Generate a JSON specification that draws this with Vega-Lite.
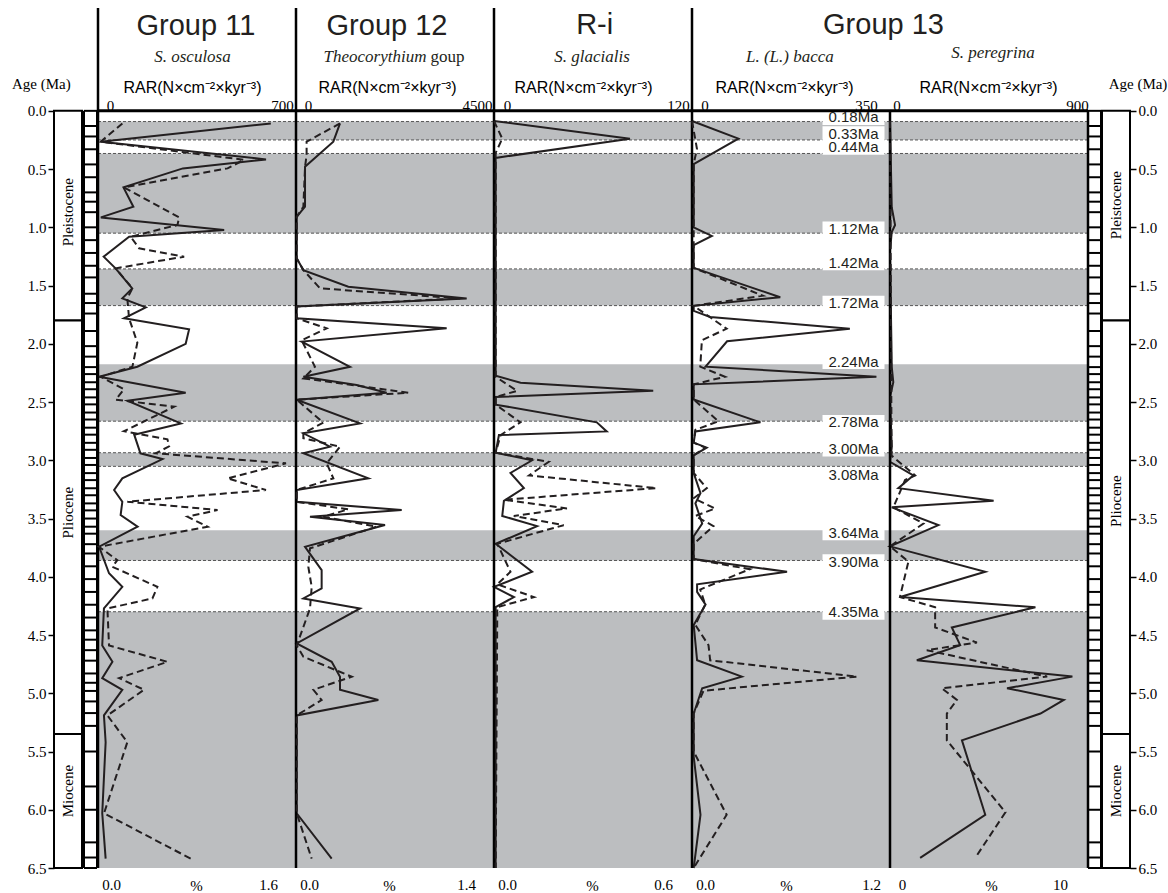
{
"$schema":"https://vega.github.io/schema/vega-lite/v6.json",
"autosize":{"type":"pad"},
"padding":{"left":12,"top":6,"right":0,"bottom":0},
"background":"white",
"spacing":0,
"bounds":"flush",
"config":{"view":{"stroke":null},"axis":{"grid":false},"concat":{"spacing":0}},
"resolve":{"scale":{"x":"independent","y":"independent"}},
"datasets":{
"bands":[{"age":0.092,"age2":0.25},{"age":0.366,"age2":1.05},{"age":1.357,"age2":1.672},{"age":2.175,"age2":2.664},{"age":2.935,"age2":3.052},{"age":3.6,"age2":3.86},{"age":4.3,"age2":6.5}],
"bounds":[{"age":0.092},{"age":0.25},{"age":0.366},{"age":1.05},{"age":1.357},{"age":1.672},{"age":2.664},{"age":2.935},{"age":3.052},{"age":3.86},{"age":4.3}],
"epochs":[{"name":"Pleistocene","age":0,"age2":1.8},{"name":"Pliocene","age":1.8,"age2":5.35},{"name":"Miocene","age":5.35,"age2":6.5}],
"epochLabelsL":[{"name":"Pleistocene","age":0.87},{"name":"Pliocene","age":3.45},{"name":"Miocene","age":5.84}],
"epochLabelsR":[{"name":"Pleistocene","age":0.81},{"name":"Pliocene","age":3.35},{"name":"Miocene","age":5.84}],
"ladder":[{"age":0},{"age":0.13},{"age":0.22},{"age":0.33},{"age":0.46},{"age":0.57},{"age":0.7},{"age":0.78},{"age":0.87},{"age":1.0},{"age":1.11},{"age":1.22},{"age":1.33},{"age":1.43},{"age":1.57},{"age":1.65},{"age":1.74},{"age":1.89},{"age":2.02},{"age":2.11},{"age":2.2},{"age":2.26},{"age":2.33},{"age":2.39},{"age":2.46},{"age":2.52},{"age":2.59},{"age":2.65},{"age":2.72},{"age":2.78},{"age":2.85},{"age":2.91},{"age":2.98},{"age":3.04},{"age":3.11},{"age":3.17},{"age":3.24},{"age":3.3},{"age":3.37},{"age":3.43},{"age":3.5},{"age":3.57},{"age":3.63},{"age":3.72},{"age":3.8},{"age":3.91},{"age":4.02},{"age":4.13},{"age":4.24},{"age":4.35},{"age":4.46},{"age":4.54},{"age":4.63},{"age":4.72},{"age":4.83},{"age":4.91},{"age":4.98},{"age":5.07},{"age":5.17},{"age":5.28},{"age":5.5},{"age":5.8},{"age":6.0},{"age":6.28},{"age":6.41},{"age":6.5}],
"agelabels":[{"label":"0.18Ma","age":0.057},{"label":"0.33Ma","age":0.196},{"label":"0.44Ma","age":0.313},{"label":"1.12Ma","age":1.013},{"label":"1.42Ma","age":1.304},{"label":"1.72Ma","age":1.652},{"label":"2.24Ma","age":2.152},{"label":"2.78Ma","age":2.674},{"label":"3.00Ma","age":2.904},{"label":"3.08Ma","age":3.122},{"label":"3.64Ma","age":3.622},{"label":"3.90Ma","age":3.87},{"label":"4.35Ma","age":4.304}],
"osc_r":[{"age":0.108,"v":611},{"age":0.265,"v":10},{"age":0.417,"v":594},{"age":0.494,"v":300},{"age":0.657,"v":90},{"age":0.823,"v":125},{"age":0.915,"v":10},{"age":1.023,"v":446},{"age":1.081,"v":110},{"age":1.252,"v":20},{"age":1.352,"v":62},{"age":1.524,"v":121},{"age":1.61,"v":86},{"age":1.687,"v":169},{"age":1.781,"v":92},{"age":1.876,"v":322},{"age":2.0,"v":310},{"age":2.197,"v":139},{"age":2.283,"v":4},{"age":2.42,"v":310},{"age":2.489,"v":104},{"age":2.683,"v":293},{"age":2.78,"v":128},{"age":2.94,"v":150},{"age":2.99,"v":228},{"age":3.155,"v":86},{"age":3.255,"v":57},{"age":3.356,"v":86},{"age":3.47,"v":80},{"age":3.57,"v":140},{"age":3.742,"v":4},{"age":3.97,"v":39},{"age":4.086,"v":86},{"age":4.272,"v":21},{"age":4.59,"v":15},{"age":4.73,"v":51},{"age":4.87,"v":15},{"age":4.97,"v":86},{"age":5.19,"v":21},{"age":5.42,"v":27},{"age":6.03,"v":15},{"age":6.42,"v":27}],
"osc_p":[{"age":0.108,"v":0.197},{"age":0.265,"v":0.022},{"age":0.42,"v":1.18},{"age":0.494,"v":1.047},{"age":0.657,"v":0.21},{"age":0.915,"v":0.656},{"age":0.98,"v":0.642},{"age":1.081,"v":0.264},{"age":1.18,"v":0.332},{"age":1.252,"v":0.696},{"age":1.352,"v":0.143},{"age":1.524,"v":0.278},{"age":1.61,"v":0.237},{"age":1.781,"v":0.251},{"age":1.99,"v":0.318},{"age":2.197,"v":0.278},{"age":2.283,"v":0.022},{"age":2.39,"v":0.21},{"age":2.48,"v":0.143},{"age":2.54,"v":0.615},{"age":2.75,"v":0.21},{"age":2.82,"v":0.561},{"age":2.88,"v":0.575},{"age":2.94,"v":0.467},{"age":3.026,"v":1.519},{"age":3.155,"v":1.047},{"age":3.255,"v":1.357},{"age":3.356,"v":0.237},{"age":3.427,"v":0.966},{"age":3.484,"v":0.723},{"age":3.57,"v":0.885},{"age":3.742,"v":0.008},{"age":3.857,"v":0.156},{"age":3.914,"v":0.116},{"age":4.086,"v":0.48},{"age":4.186,"v":0.44},{"age":4.272,"v":0.076},{"age":4.59,"v":0.089},{"age":4.73,"v":0.561},{"age":4.87,"v":0.17},{"age":4.97,"v":0.372},{"age":5.19,"v":0.076},{"age":5.42,"v":0.237},{"age":6.03,"v":0.049},{"age":6.42,"v":0.75}],
"the_r":[{"age":0.108,"v":1000},{"age":0.265,"v":848},{"age":0.48,"v":205},{"age":0.823,"v":205},{"age":0.91,"v":15},{"age":1.266,"v":15},{"age":1.367,"v":167},{"age":1.51,"v":1189},{"age":1.61,"v":3879},{"age":1.68,"v":15},{"age":1.781,"v":15},{"age":1.867,"v":3424},{"age":1.981,"v":129},{"age":2.197,"v":1227},{"age":2.283,"v":167},{"age":2.354,"v":1379},{"age":2.42,"v":2061},{"age":2.48,"v":15},{"age":2.683,"v":1455},{"age":2.768,"v":167},{"age":2.883,"v":773},{"age":2.94,"v":167},{"age":3.155,"v":1644},{"age":3.255,"v":15},{"age":3.356,"v":15},{"age":3.427,"v":2402},{"age":3.484,"v":318},{"age":3.556,"v":2023},{"age":3.742,"v":205},{"age":3.943,"v":583},{"age":4.1,"v":583},{"age":4.186,"v":167},{"age":4.272,"v":1455},{"age":4.572,"v":15},{"age":4.73,"v":811},{"age":4.858,"v":1000},{"age":4.97,"v":1000},{"age":5.058,"v":1871},{"age":5.19,"v":15},{"age":6.03,"v":15},{"age":6.42,"v":811}],
"the_p":[{"age":0.108,"v":0.311},{"age":0.265,"v":0.075},{"age":0.379,"v":0.075},{"age":0.48,"v":0.064},{"age":0.823,"v":0.052},{"age":0.91,"v":0.005},{"age":1.266,"v":0.005},{"age":1.367,"v":0.052},{"age":1.524,"v":0.17},{"age":1.61,"v":1.16},{"age":1.68,"v":0.005},{"age":1.781,"v":0.005},{"age":1.867,"v":0.217},{"age":1.97,"v":0.04},{"age":2.197,"v":0.134},{"age":2.297,"v":0.052},{"age":2.42,"v":0.794},{"age":2.48,"v":0.005},{"age":2.677,"v":0.193},{"age":2.768,"v":0.052},{"age":2.811,"v":0.052},{"age":2.883,"v":0.311},{"age":3.026,"v":0.217},{"age":3.155,"v":0.264},{"age":3.255,"v":0.005},{"age":3.356,"v":0.005},{"age":3.421,"v":0.37},{"age":3.484,"v":0.193},{"age":3.57,"v":0.57},{"age":3.756,"v":0.099},{"age":3.914,"v":0.087},{"age":4.086,"v":0.111},{"age":4.272,"v":0.099},{"age":4.59,"v":0.005},{"age":4.686,"v":0.052},{"age":4.858,"v":0.394},{"age":4.97,"v":0.123},{"age":5.058,"v":0.181},{"age":5.19,"v":0.005},{"age":6.03,"v":0.005},{"age":6.42,"v":0.111}],
"gla_r":[{"age":0.087,"v":0},{"age":0.239,"v":82.4},{"age":0.404,"v":1},{"age":2.274,"v":1},{"age":2.335,"v":16.1},{"age":2.404,"v":96.5},{"age":2.457,"v":1},{"age":2.522,"v":1},{"age":2.674,"v":62.3},{"age":2.752,"v":68.3},{"age":2.783,"v":3},{"age":2.935,"v":1},{"age":3.0,"v":23.1},{"age":3.109,"v":10},{"age":3.239,"v":18.1},{"age":3.348,"v":6},{"age":3.478,"v":5},{"age":3.565,"v":26.1},{"age":3.717,"v":1},{"age":3.957,"v":23.1},{"age":4.087,"v":0},{"age":4.174,"v":12.1},{"age":4.261,"v":1},{"age":6.5,"v":1}],
"gla_p":[{"age":0.087,"v":0},{"age":0.239,"v":0.025},{"age":0.361,"v":0.005},{"age":2.283,"v":0.005},{"age":2.404,"v":0.07},{"age":2.457,"v":0.005},{"age":2.522,"v":0.005},{"age":2.674,"v":0.08},{"age":2.783,"v":0.02},{"age":2.935,"v":0.005},{"age":3.013,"v":0.166},{"age":3.13,"v":0.106},{"age":3.239,"v":0.492},{"age":3.339,"v":0.03},{"age":3.413,"v":0.221},{"age":3.478,"v":0.06},{"age":3.557,"v":0.211},{"age":3.717,"v":0.01},{"age":3.957,"v":0.05},{"age":4.065,"v":0.01},{"age":4.174,"v":0.121},{"age":4.261,"v":0.01},{"age":6.5,"v":0.005}],
"bac_r":[{"age":0.087,"v":0},{"age":0.239,"v":82},{"age":0.457,"v":3},{"age":1.0,"v":3},{"age":1.074,"v":35},{"age":1.152,"v":3},{"age":1.348,"v":3},{"age":1.6,"v":156},{"age":1.674,"v":3},{"age":1.717,"v":3},{"age":1.77,"v":32},{"age":1.87,"v":279},{"age":1.978,"v":62},{"age":2.196,"v":24},{"age":2.283,"v":326},{"age":2.348,"v":3},{"age":2.478,"v":3},{"age":2.674,"v":121},{"age":2.752,"v":6},{"age":2.848,"v":3},{"age":2.891,"v":26},{"age":2.957,"v":3},{"age":3.109,"v":3},{"age":3.283,"v":15},{"age":3.37,"v":6},{"age":3.543,"v":18},{"age":3.652,"v":3},{"age":3.848,"v":3},{"age":3.957,"v":168},{"age":4.065,"v":9},{"age":4.13,"v":9},{"age":4.239,"v":24},{"age":4.413,"v":3},{"age":4.717,"v":9},{"age":4.857,"v":88},{"age":4.957,"v":18},{"age":5.174,"v":3},{"age":5.543,"v":3},{"age":6.043,"v":15},{"age":6.5,"v":3}],
"bac_p":[{"age":0.087,"v":0},{"age":0.326,"v":0.03},{"age":0.457,"v":0.01},{"age":1.348,"v":0.01},{"age":1.587,"v":0.43},{"age":1.674,"v":0.01},{"age":1.87,"v":0.21},{"age":1.97,"v":0.06},{"age":2.196,"v":0.05},{"age":2.283,"v":0.2},{"age":2.348,"v":0.01},{"age":2.478,"v":0.01},{"age":2.665,"v":0.16},{"age":2.739,"v":0.02},{"age":2.848,"v":0.01},{"age":2.891,"v":0.08},{"age":2.957,"v":0.01},{"age":3.109,"v":0.01},{"age":3.239,"v":0.09},{"age":3.326,"v":0.01},{"age":3.413,"v":0.14},{"age":3.478,"v":0.02},{"age":3.565,"v":0.13},{"age":3.717,"v":0.01},{"age":3.848,"v":0.01},{"age":3.935,"v":0.35},{"age":4.109,"v":0.05},{"age":4.239,"v":0.08},{"age":4.413,"v":0.02},{"age":4.587,"v":0.1},{"age":4.717,"v":0.11},{"age":4.857,"v":1.0},{"age":4.978,"v":0.07},{"age":5.174,"v":0.01},{"age":5.5,"v":0.01},{"age":6.043,"v":0.21},{"age":6.5,"v":0.01}],
"per_r":[{"age":0.087,"v":0},{"age":0.83,"v":8},{"age":0.98,"v":23},{"age":1.04,"v":8},{"age":1.2,"v":0},{"age":2.2,"v":8},{"age":2.33,"v":15},{"age":2.46,"v":0},{"age":2.89,"v":8},{"age":3.013,"v":0},{"age":3.13,"v":106},{"age":3.239,"v":38},{"age":3.348,"v":471},{"age":3.404,"v":8},{"age":3.557,"v":220},{"age":3.739,"v":0},{"age":3.957,"v":433},{"age":4.174,"v":46},{"age":4.261,"v":661},{"age":4.435,"v":281},{"age":4.587,"v":319},{"age":4.717,"v":122},{"age":4.857,"v":829},{"age":4.957,"v":532},{"age":5.057,"v":790},{"age":5.174,"v":684},{"age":5.404,"v":327},{"age":6.043,"v":433},{"age":6.413,"v":137}],
"per_p":[{"age":0.087,"v":0},{"age":2.96,"v":0.08},{"age":3.13,"v":1.27},{"age":3.17,"v":0.76},{"age":3.404,"v":0.17},{"age":3.543,"v":1.69},{"age":3.739,"v":0},{"age":3.87,"v":0.93},{"age":4.174,"v":0.5},{"age":4.261,"v":2.28},{"age":4.435,"v":2.28},{"age":4.565,"v":4.39},{"age":4.63,"v":1.86},{"age":4.857,"v":7.94},{"age":4.957,"v":2.62},{"age":5.057,"v":3.38},{"age":5.174,"v":2.87},{"age":5.404,"v":2.87},{"age":6.022,"v":5.83},{"age":6.391,"v":4.39}]
},
"hconcat":[
{"width":44,"height":862,"layer":[
 {"data":{"name":"epochs"},"mark":{"type":"rect","fill":"white","stroke":"#000","strokeWidth":2},"encoding":{"x":{"datum":0,"type":"quantitative","scale":{"domain":[0,44],"nice":false,"zero":false},"axis":null},"x2":{"datum":28},"y":{"field":"age","type":"quantitative","scale":{"domain":[-0.9,6.5],"reverse":true,"nice":false,"zero":false},"axis":{"orient":"left","values":[0,0.5,1,1.5,2,2.5,3,3.5,4,4.5,5,5.5,6,6.5],"format":".1f","domain":false,"ticks":true,"tickSize":6,"tickWidth":1.5,"tickColor":"#000","labelFont":"Liberation Serif","labelFontSize":15,"labelColor":"#000","labelPadding":2,"labelOverlap":false,"title":null,"grid":false}},"y2":{"field":"age2"}}},
 {"data":{"name":"epochLabelsL"},"mark":{"type":"text","angle":270,"font":"Liberation Serif","fontSize":15,"color":"#000","align":"center","baseline":"middle"},"encoding":{"x":{"datum":14,"type":"quantitative","axis":null},"y":{"field":"age","type":"quantitative","scale":{"domain":[-0.9,6.5],"reverse":true,"nice":false,"zero":false}},"text":{"field":"name"}}},
 {"data":{"name":"ladder"},"mark":{"type":"rule","stroke":"#000","strokeWidth":2},"encoding":{"x":{"datum":30,"type":"quantitative","axis":null},"x2":{"datum":43},"y":{"field":"age","type":"quantitative","scale":{"domain":[-0.9,6.5],"reverse":true,"nice":false,"zero":false}}}},
 {"data":{"values":[{}]},"mark":{"type":"rule","stroke":"#000","strokeWidth":2},"encoding":{"x":{"datum":30,"type":"quantitative","axis":null},"y":{"datum":0,"type":"quantitative","scale":{"domain":[-0.9,6.5],"reverse":true,"nice":false,"zero":false}},"y2":{"datum":6.5}}},
 {"data":{"values":[{}]},"mark":{"type":"rule","stroke":"#000","strokeWidth":2},"encoding":{"x":{"datum":43,"type":"quantitative","axis":null},"y":{"datum":0,"type":"quantitative","scale":{"domain":[-0.9,6.5],"reverse":true,"nice":false,"zero":false}},"y2":{"datum":6.5}}},
 {"data":{"values":[{}]},"mark":{"type":"text","text":"Age (Ma)","font":"Liberation Serif","fontSize":15,"color":"#000","align":"left","baseline":"alphabetic"},"encoding":{"x":{"datum":-42,"type":"quantitative","axis":null},"y":{"datum":-0.1875,"type":"quantitative","scale":{"domain":[-0.9,6.5],"reverse":true,"nice":false,"zero":false}}}}
]},
{"width":198,"height":862,"resolve":{"scale":{"x":"independent"},"axis":{"x":"independent"}},"layer":[
 {"layer":[
  {"data":{"name":"bands"},"mark":{"type":"rect","fill":"#bcbec0"},"encoding":{"y":{"field":"age","type":"quantitative","scale":{"domain":[-0.9,6.5],"reverse":true,"nice":false,"zero":false},"axis":null},"y2":{"field":"age2"}}},
  {"data":{"name":"bounds"},"mark":{"type":"rule","stroke":"#555","strokeWidth":1,"strokeDash":[3,2]},"encoding":{"y":{"field":"age","type":"quantitative","scale":{"domain":[-0.9,6.5],"reverse":true,"nice":false,"zero":false},"axis":null}}},
  {"data":{"name":"osc_r"},"mark":{"type":"line","stroke":"#231f20","strokeWidth":2},"encoding":{"x":{"field":"v","type":"quantitative","scale":{"domain":[0,700],"nice":false,"zero":false},"axis":{"orient":"top","offset":-105,"values":[0,700],"format":"d","labelOffset":{"condition":{"test":"datum.value === 0","value":12},"value":-14},"labelFlush":false,"labelOverlap":false,"ticks":false,"domain":false,"labelFont":"Liberation Serif","labelFontSize":15,"labelColor":"#000","labelPadding":-2,"title":"RAR(N×cm⁻²×kyr⁻³)","titleFont":"Liberation Sans","titleFontSize":16,"titleFontWeight":"normal","titleColor":"#000","titleBaseline":"alphabetic","titleX":94,"titleY":-19,"zindex":1}},"y":{"field":"age","type":"quantitative","scale":{"domain":[-0.9,6.5],"reverse":true,"nice":false,"zero":false},"axis":null},"order":{"field":"age","type":"quantitative"}}},
  {"data":{"values":[{}]},"mark":{"type":"rule","stroke":"#000","strokeWidth":2.5},"encoding":{"x":{"datum":0,"type":"quantitative"},"y":{"datum":-0.883,"type":"quantitative","scale":{"domain":[-0.9,6.5],"reverse":true,"nice":false,"zero":false},"axis":null},"y2":{"datum":6.5}}},
  {"data":{"values":[{}]},"mark":{"type":"rule","stroke":"#000","strokeWidth":3},"encoding":{"x":{"datum":0,"type":"quantitative"},"x2":{"datum":700},"y":{"datum":0,"type":"quantitative","scale":{"domain":[-0.9,6.5],"reverse":true,"nice":false,"zero":false},"axis":null}}},
  {"data":{"values":[{}]},"mark":{"type":"text","text":"Group 11","font":"Liberation Sans","fontSize":29,"color":"#231f20","align":"center","baseline":"alphabetic"},"encoding":{"x":{"datum":346,"type":"quantitative"},"y":{"datum":-0.651,"type":"quantitative","scale":{"domain":[-0.9,6.5],"reverse":true,"nice":false,"zero":false},"axis":null}}},
  {"data":{"values":[{}]},"mark":{"type":"text","text":"S. osculosa","font":"Liberation Serif","fontStyle":"italic","fontSize":17,"color":"#231f20","align":"center","baseline":"alphabetic"},"encoding":{"x":{"datum":334,"type":"quantitative"},"y":{"datum":-0.419,"type":"quantitative","scale":{"domain":[-0.9,6.5],"reverse":true,"nice":false,"zero":false},"axis":null}}}
 ]},
 {"data":{"name":"osc_p"},"mark":{"type":"line","stroke":"#231f20","strokeWidth":2,"strokeDash":[7,4]},"encoding":{"x":{"field":"v","type":"quantitative","scale":{"domain":[0,1.6],"nice":false,"zero":false},"axis":{"orient":"bottom","values":[0,1.6],"format":".1f","labelOffset":{"condition":{"test":"datum.value === 0","value":13},"value":-28},"labelFlush":false,"labelOverlap":false,"ticks":false,"domain":false,"labelFont":"Liberation Serif","labelFontSize":15,"labelColor":"#000","labelPadding":9,"title":"%","titleFont":"Liberation Serif","titleFontSize":15,"titleFontWeight":"normal","titleColor":"#000","titleBaseline":"alphabetic","titleX":98,"titleY":22}},"y":{"field":"age","type":"quantitative","scale":{"domain":[-0.9,6.5],"reverse":true,"nice":false,"zero":false},"axis":null},"order":{"field":"age","type":"quantitative"}}}
]},
{"width":198,"height":862,"resolve":{"scale":{"x":"independent"},"axis":{"x":"independent"}},"layer":[
 {"layer":[
  {"data":{"name":"bands"},"mark":{"type":"rect","fill":"#bcbec0"},"encoding":{"y":{"field":"age","type":"quantitative","scale":{"domain":[-0.9,6.5],"reverse":true,"nice":false,"zero":false},"axis":null},"y2":{"field":"age2"}}},
  {"data":{"name":"bounds"},"mark":{"type":"rule","stroke":"#555","strokeWidth":1,"strokeDash":[3,2]},"encoding":{"y":{"field":"age","type":"quantitative","scale":{"domain":[-0.9,6.5],"reverse":true,"nice":false,"zero":false},"axis":null}}},
  {"data":{"name":"the_r"},"mark":{"type":"line","stroke":"#231f20","strokeWidth":2},"encoding":{"x":{"field":"v","type":"quantitative","scale":{"domain":[0,4500],"nice":false,"zero":false},"axis":{"orient":"top","offset":-105,"values":[0,4500],"format":"d","labelOffset":{"condition":{"test":"datum.value === 0","value":12},"value":-17},"labelFlush":false,"labelOverlap":false,"ticks":false,"domain":false,"labelFont":"Liberation Serif","labelFontSize":15,"labelColor":"#000","labelPadding":-2,"title":"RAR(N×cm⁻²×kyr⁻³)","titleFont":"Liberation Sans","titleFontSize":16,"titleFontWeight":"normal","titleColor":"#000","titleBaseline":"alphabetic","titleX":91,"titleY":-19,"zindex":1}},"y":{"field":"age","type":"quantitative","scale":{"domain":[-0.9,6.5],"reverse":true,"nice":false,"zero":false},"axis":null},"order":{"field":"age","type":"quantitative"}}},
  {"data":{"values":[{}]},"mark":{"type":"rule","stroke":"#000","strokeWidth":2.5},"encoding":{"x":{"datum":0,"type":"quantitative"},"y":{"datum":-0.883,"type":"quantitative","scale":{"domain":[-0.9,6.5],"reverse":true,"nice":false,"zero":false},"axis":null},"y2":{"datum":6.5}}},
  {"data":{"values":[{}]},"mark":{"type":"rule","stroke":"#000","strokeWidth":3},"encoding":{"x":{"datum":0,"type":"quantitative"},"x2":{"datum":4500},"y":{"datum":0,"type":"quantitative","scale":{"domain":[-0.9,6.5],"reverse":true,"nice":false,"zero":false},"axis":null}}},
  {"data":{"values":[{}]},"mark":{"type":"text","text":"Group 12","font":"Liberation Sans","fontSize":29,"color":"#231f20","align":"center","baseline":"alphabetic"},"encoding":{"x":{"datum":2068,"type":"quantitative"},"y":{"datum":-0.651,"type":"quantitative","scale":{"domain":[-0.9,6.5],"reverse":true,"nice":false,"zero":false},"axis":null}}},
  {"data":{"values":[{}]},"mark":{"type":"text","text":"Theocorythium","font":"Liberation Serif","fontStyle":"italic","fontSize":17,"color":"#231f20","align":"right","baseline":"alphabetic"},"encoding":{"x":{"datum":2966,"type":"quantitative"},"y":{"datum":-0.419,"type":"quantitative","scale":{"domain":[-0.9,6.5],"reverse":true,"nice":false,"zero":false},"axis":null}}},
  {"data":{"values":[{}]},"mark":{"type":"text","text":"goup","font":"Liberation Serif","fontSize":17,"color":"#231f20","align":"left","baseline":"alphabetic","dx":4},"encoding":{"x":{"datum":2966,"type":"quantitative"},"y":{"datum":-0.419,"type":"quantitative","scale":{"domain":[-0.9,6.5],"reverse":true,"nice":false,"zero":false},"axis":null}}}
 ]},
 {"data":{"name":"the_p"},"mark":{"type":"line","stroke":"#231f20","strokeWidth":2,"strokeDash":[7,4]},"encoding":{"x":{"field":"v","type":"quantitative","scale":{"domain":[0,1.4],"nice":false,"zero":false},"axis":{"orient":"bottom","values":[0,1.4],"format":".1f","labelOffset":{"condition":{"test":"datum.value === 0","value":13},"value":-28},"labelFlush":false,"labelOverlap":false,"ticks":false,"domain":false,"labelFont":"Liberation Serif","labelFontSize":15,"labelColor":"#000","labelPadding":9,"title":"%","titleFont":"Liberation Serif","titleFontSize":15,"titleFontWeight":"normal","titleColor":"#000","titleBaseline":"alphabetic","titleX":93,"titleY":22}},"y":{"field":"age","type":"quantitative","scale":{"domain":[-0.9,6.5],"reverse":true,"nice":false,"zero":false},"axis":null},"order":{"field":"age","type":"quantitative"}}}
]},
{"width":198,"height":862,"resolve":{"scale":{"x":"independent"},"axis":{"x":"independent"}},"layer":[
 {"layer":[
  {"data":{"name":"bands"},"mark":{"type":"rect","fill":"#bcbec0"},"encoding":{"y":{"field":"age","type":"quantitative","scale":{"domain":[-0.9,6.5],"reverse":true,"nice":false,"zero":false},"axis":null},"y2":{"field":"age2"}}},
  {"data":{"name":"bounds"},"mark":{"type":"rule","stroke":"#555","strokeWidth":1,"strokeDash":[3,2]},"encoding":{"y":{"field":"age","type":"quantitative","scale":{"domain":[-0.9,6.5],"reverse":true,"nice":false,"zero":false},"axis":null}}},
  {"data":{"name":"gla_r"},"mark":{"type":"line","stroke":"#231f20","strokeWidth":2},"encoding":{"x":{"field":"v","type":"quantitative","scale":{"domain":[0,120],"nice":false,"zero":false},"axis":{"orient":"top","offset":-105,"values":[0,120],"format":"d","labelOffset":{"condition":{"test":"datum.value === 0","value":13},"value":-14},"labelFlush":false,"labelOverlap":false,"ticks":false,"domain":false,"labelFont":"Liberation Serif","labelFontSize":15,"labelColor":"#000","labelPadding":-2,"title":"RAR(N×cm⁻²×kyr⁻³)","titleFont":"Liberation Sans","titleFontSize":16,"titleFontWeight":"normal","titleColor":"#000","titleBaseline":"alphabetic","titleX":89,"titleY":-19,"zindex":1}},"y":{"field":"age","type":"quantitative","scale":{"domain":[-0.9,6.5],"reverse":true,"nice":false,"zero":false},"axis":null},"order":{"field":"age","type":"quantitative"}}},
  {"data":{"values":[{}]},"mark":{"type":"rule","stroke":"#000","strokeWidth":2.5},"encoding":{"x":{"datum":0,"type":"quantitative"},"y":{"datum":-0.883,"type":"quantitative","scale":{"domain":[-0.9,6.5],"reverse":true,"nice":false,"zero":false},"axis":null},"y2":{"datum":6.5}}},
  {"data":{"values":[{}]},"mark":{"type":"rule","stroke":"#000","strokeWidth":3},"encoding":{"x":{"datum":0,"type":"quantitative"},"x2":{"datum":120},"y":{"datum":0,"type":"quantitative","scale":{"domain":[-0.9,6.5],"reverse":true,"nice":false,"zero":false},"axis":null}}},
  {"data":{"values":[{}]},"mark":{"type":"text","text":"R-i","font":"Liberation Sans","fontSize":29,"color":"#231f20","align":"center","baseline":"alphabetic"},"encoding":{"x":{"datum":61,"type":"quantitative"},"y":{"datum":-0.66,"type":"quantitative","scale":{"domain":[-0.9,6.5],"reverse":true,"nice":false,"zero":false},"axis":null}}},
  {"data":{"values":[{}]},"mark":{"type":"text","text":"S. glacialis","font":"Liberation Serif","fontStyle":"italic","fontSize":17,"color":"#231f20","align":"center","baseline":"alphabetic"},"encoding":{"x":{"datum":59.4,"type":"quantitative"},"y":{"datum":-0.419,"type":"quantitative","scale":{"domain":[-0.9,6.5],"reverse":true,"nice":false,"zero":false},"axis":null}}}
 ]},
 {"data":{"name":"gla_p"},"mark":{"type":"line","stroke":"#231f20","strokeWidth":2,"strokeDash":[7,4]},"encoding":{"x":{"field":"v","type":"quantitative","scale":{"domain":[0,0.6],"nice":false,"zero":false},"axis":{"orient":"bottom","values":[0,0.6],"format":".1f","labelOffset":{"condition":{"test":"datum.value === 0","value":13},"value":-29},"labelFlush":false,"labelOverlap":false,"ticks":false,"domain":false,"labelFont":"Liberation Serif","labelFontSize":15,"labelColor":"#000","labelPadding":9,"title":"%","titleFont":"Liberation Serif","titleFontSize":15,"titleFontWeight":"normal","titleColor":"#000","titleBaseline":"alphabetic","titleX":98,"titleY":22}},"y":{"field":"age","type":"quantitative","scale":{"domain":[-0.9,6.5],"reverse":true,"nice":false,"zero":false},"axis":null},"order":{"field":"age","type":"quantitative"}}}
]},
{"width":198,"height":862,"resolve":{"scale":{"x":"independent"},"axis":{"x":"independent"}},"layer":[
 {"layer":[
  {"data":{"name":"bands"},"mark":{"type":"rect","fill":"#bcbec0"},"encoding":{"y":{"field":"age","type":"quantitative","scale":{"domain":[-0.9,6.5],"reverse":true,"nice":false,"zero":false},"axis":null},"y2":{"field":"age2"}}},
  {"data":{"name":"bounds"},"mark":{"type":"rule","stroke":"#555","strokeWidth":1,"strokeDash":[3,2]},"encoding":{"y":{"field":"age","type":"quantitative","scale":{"domain":[-0.9,6.5],"reverse":true,"nice":false,"zero":false},"axis":null}}},
  {"data":{"name":"bac_r"},"mark":{"type":"line","stroke":"#231f20","strokeWidth":2},"encoding":{"x":{"field":"v","type":"quantitative","scale":{"domain":[0,350],"nice":false,"zero":false},"axis":{"orient":"top","offset":-105,"values":[0,350],"format":"d","labelOffset":{"condition":{"test":"datum.value === 0","value":12.5},"value":-24},"labelFlush":false,"labelOverlap":false,"ticks":false,"domain":false,"labelFont":"Liberation Serif","labelFontSize":15,"labelColor":"#000","labelPadding":-2,"title":"RAR(N×cm⁻²×kyr⁻³)","titleFont":"Liberation Sans","titleFontSize":16,"titleFontWeight":"normal","titleColor":"#000","titleBaseline":"alphabetic","titleX":92,"titleY":-19,"zindex":1}},"y":{"field":"age","type":"quantitative","scale":{"domain":[-0.9,6.5],"reverse":true,"nice":false,"zero":false},"axis":null},"order":{"field":"age","type":"quantitative"}}},
  {"data":{"values":[{}]},"mark":{"type":"rule","stroke":"#000","strokeWidth":2.5},"encoding":{"x":{"datum":0,"type":"quantitative"},"y":{"datum":-0.883,"type":"quantitative","scale":{"domain":[-0.9,6.5],"reverse":true,"nice":false,"zero":false},"axis":null},"y2":{"datum":6.5}}},
  {"data":{"name":"agelabels"},"mark":{"type":"point","shape":"M-1,-0.24L1,-0.24L1,0.24L-1,0.24Z","size":3844,"filled":true,"fill":"#ffffff","opacity":1,"strokeWidth":0},"encoding":{"x":{"datum":285.5,"type":"quantitative"},"y":{"field":"age","type":"quantitative","scale":{"domain":[-0.9,6.5],"reverse":true,"nice":false,"zero":false},"axis":null}}},
  {"data":{"values":[{}]},"mark":{"type":"rule","stroke":"#000","strokeWidth":3},"encoding":{"x":{"datum":0,"type":"quantitative"},"x2":{"datum":350},"y":{"datum":0,"type":"quantitative","scale":{"domain":[-0.9,6.5],"reverse":true,"nice":false,"zero":false},"axis":null}}},
  {"data":{"name":"agelabels"},"mark":{"type":"text","font":"Liberation Sans","fontSize":15,"color":"#231f20","align":"center","baseline":"middle"},"encoding":{"x":{"datum":285.5,"type":"quantitative"},"y":{"field":"age","type":"quantitative","scale":{"domain":[-0.9,6.5],"reverse":true,"nice":false,"zero":false},"axis":null},"text":{"field":"label"}}},
  {"data":{"values":[{}]},"mark":{"type":"text","text":"Group 13","font":"Liberation Sans","fontSize":29,"color":"#231f20","align":"center","baseline":"alphabetic"},"encoding":{"x":{"datum":338.5,"type":"quantitative"},"y":{"datum":-0.66,"type":"quantitative","scale":{"domain":[-0.9,6.5],"reverse":true,"nice":false,"zero":false},"axis":null}}},
  {"data":{"values":[{}]},"mark":{"type":"text","text":"L. (L.) bacca","font":"Liberation Serif","fontStyle":"italic","fontSize":17,"color":"#231f20","align":"center","baseline":"alphabetic"},"encoding":{"x":{"datum":173,"type":"quantitative"},"y":{"datum":-0.419,"type":"quantitative","scale":{"domain":[-0.9,6.5],"reverse":true,"nice":false,"zero":false},"axis":null}}}
 ]},
 {"data":{"name":"bac_p"},"mark":{"type":"line","stroke":"#231f20","strokeWidth":2,"strokeDash":[7,4]},"encoding":{"x":{"field":"v","type":"quantitative","scale":{"domain":[0,1.2],"nice":false,"zero":false},"axis":{"orient":"bottom","values":[0,1.2],"format":".1f","labelOffset":{"condition":{"test":"datum.value === 0","value":13},"value":-19},"labelFlush":false,"labelOverlap":false,"ticks":false,"domain":false,"labelFont":"Liberation Serif","labelFontSize":15,"labelColor":"#000","labelPadding":9,"title":"%","titleFont":"Liberation Serif","titleFontSize":15,"titleFontWeight":"normal","titleColor":"#000","titleBaseline":"alphabetic","titleX":94,"titleY":22}},"y":{"field":"age","type":"quantitative","scale":{"domain":[-0.9,6.5],"reverse":true,"nice":false,"zero":false},"axis":null},"order":{"field":"age","type":"quantitative"}}}
]},
{"width":198,"height":862,"resolve":{"scale":{"x":"independent"},"axis":{"x":"independent"}},"layer":[
 {"layer":[
  {"data":{"name":"bands"},"mark":{"type":"rect","fill":"#bcbec0"},"encoding":{"y":{"field":"age","type":"quantitative","scale":{"domain":[-0.9,6.5],"reverse":true,"nice":false,"zero":false},"axis":null},"y2":{"field":"age2"}}},
  {"data":{"name":"bounds"},"mark":{"type":"rule","stroke":"#555","strokeWidth":1,"strokeDash":[3,2]},"encoding":{"y":{"field":"age","type":"quantitative","scale":{"domain":[-0.9,6.5],"reverse":true,"nice":false,"zero":false},"axis":null}}},
  {"data":{"name":"per_r"},"mark":{"type":"line","stroke":"#231f20","strokeWidth":2},"encoding":{"x":{"field":"v","type":"quantitative","scale":{"domain":[0,900],"nice":false,"zero":false},"axis":{"orient":"top","offset":-105,"values":[0,900],"format":"d","labelOffset":{"condition":{"test":"datum.value === 0","value":6.5},"value":-11},"labelFlush":false,"labelOverlap":false,"ticks":false,"domain":false,"labelFont":"Liberation Serif","labelFontSize":15,"labelColor":"#000","labelPadding":-2,"title":"RAR(N×cm⁻²×kyr⁻³)","titleFont":"Liberation Sans","titleFontSize":16,"titleFontWeight":"normal","titleColor":"#000","titleBaseline":"alphabetic","titleX":98,"titleY":-19,"zindex":1}},"y":{"field":"age","type":"quantitative","scale":{"domain":[-0.9,6.5],"reverse":true,"nice":false,"zero":false},"axis":null},"order":{"field":"age","type":"quantitative"}}},
  {"data":{"values":[{}]},"mark":{"type":"rule","stroke":"#000","strokeWidth":2.5},"encoding":{"x":{"datum":0,"type":"quantitative"},"y":{"datum":0,"type":"quantitative","scale":{"domain":[-0.9,6.5],"reverse":true,"nice":false,"zero":false},"axis":null},"y2":{"datum":6.5}}},
  {"data":{"values":[{}]},"mark":{"type":"rule","stroke":"#000","strokeWidth":2.5},"encoding":{"x":{"datum":900,"type":"quantitative"},"y":{"datum":0,"type":"quantitative","scale":{"domain":[-0.9,6.5],"reverse":true,"nice":false,"zero":false},"axis":null},"y2":{"datum":6.5}}},
  {"data":{"values":[{}]},"mark":{"type":"rule","stroke":"#000","strokeWidth":3},"encoding":{"x":{"datum":0,"type":"quantitative"},"x2":{"datum":900},"y":{"datum":0,"type":"quantitative","scale":{"domain":[-0.9,6.5],"reverse":true,"nice":false,"zero":false},"axis":null}}},
  {"data":{"values":[{}]},"mark":{"type":"text","text":"S. peregrina","font":"Liberation Serif","fontStyle":"italic","fontSize":17,"color":"#231f20","align":"center","baseline":"alphabetic"},"encoding":{"x":{"datum":468,"type":"quantitative"},"y":{"datum":-0.45,"type":"quantitative","scale":{"domain":[-0.9,6.5],"reverse":true,"nice":false,"zero":false},"axis":null}}}
 ]},
 {"data":{"name":"per_p"},"mark":{"type":"line","stroke":"#231f20","strokeWidth":2,"strokeDash":[7,4]},"encoding":{"x":{"field":"v","type":"quantitative","scale":{"domain":[0,10],"nice":false,"zero":false},"axis":{"orient":"bottom","values":[0,10],"format":"d","labelOffset":{"condition":{"test":"datum.value === 0","value":12},"value":-28},"labelFlush":false,"labelOverlap":false,"ticks":false,"domain":false,"labelFont":"Liberation Serif","labelFontSize":15,"labelColor":"#000","labelPadding":9,"title":"%","titleFont":"Liberation Serif","titleFontSize":15,"titleFontWeight":"normal","titleColor":"#000","titleBaseline":"alphabetic","titleX":101,"titleY":22}},"y":{"field":"age","type":"quantitative","scale":{"domain":[-0.9,6.5],"reverse":true,"nice":false,"zero":false},"axis":null},"order":{"field":"age","type":"quantitative"}}}
]},
{"width":42,"height":862,"layer":[
 {"data":{"name":"epochs"},"mark":{"type":"rect","fill":"white","stroke":"#000","strokeWidth":2},"encoding":{"x":{"datum":14,"type":"quantitative","scale":{"domain":[0,42],"nice":false,"zero":false},"axis":null},"x2":{"datum":42},"y":{"field":"age","type":"quantitative","scale":{"domain":[-0.9,6.5],"reverse":true,"nice":false,"zero":false},"axis":{"orient":"right","values":[0,0.5,1,1.5,2,2.5,3,3.5,4,4.5,5,5.5,6,6.5],"format":".1f","domain":false,"ticks":true,"tickSize":6,"tickWidth":1.5,"tickColor":"#000","labelFont":"Liberation Serif","labelFontSize":15,"labelColor":"#000","labelPadding":2,"labelOverlap":false,"title":null,"grid":false}},"y2":{"field":"age2"}}},
 {"data":{"name":"epochLabelsR"},"mark":{"type":"text","angle":270,"font":"Liberation Serif","fontSize":15,"color":"#000","align":"center","baseline":"middle"},"encoding":{"x":{"datum":28,"type":"quantitative","axis":null},"y":{"field":"age","type":"quantitative","scale":{"domain":[-0.9,6.5],"reverse":true,"nice":false,"zero":false}},"text":{"field":"name"}}},
 {"data":{"name":"ladder"},"mark":{"type":"rule","stroke":"#000","strokeWidth":2},"encoding":{"x":{"datum":0,"type":"quantitative","axis":null},"x2":{"datum":13},"y":{"field":"age","type":"quantitative","scale":{"domain":[-0.9,6.5],"reverse":true,"nice":false,"zero":false}}}},
 {"data":{"values":[{}]},"mark":{"type":"rule","stroke":"#000","strokeWidth":2},"encoding":{"x":{"datum":13,"type":"quantitative","axis":null},"y":{"datum":0,"type":"quantitative","scale":{"domain":[-0.9,6.5],"reverse":true,"nice":false,"zero":false}},"y2":{"datum":6.5}}},
 {"data":{"values":[{}]},"mark":{"type":"text","text":"Age (Ma)","font":"Liberation Serif","fontSize":15,"color":"#000","align":"center","baseline":"alphabetic"},"encoding":{"x":{"datum":50,"type":"quantitative","axis":null},"y":{"datum":-0.1875,"type":"quantitative","scale":{"domain":[-0.9,6.5],"reverse":true,"nice":false,"zero":false}}}}
]}
]
}
